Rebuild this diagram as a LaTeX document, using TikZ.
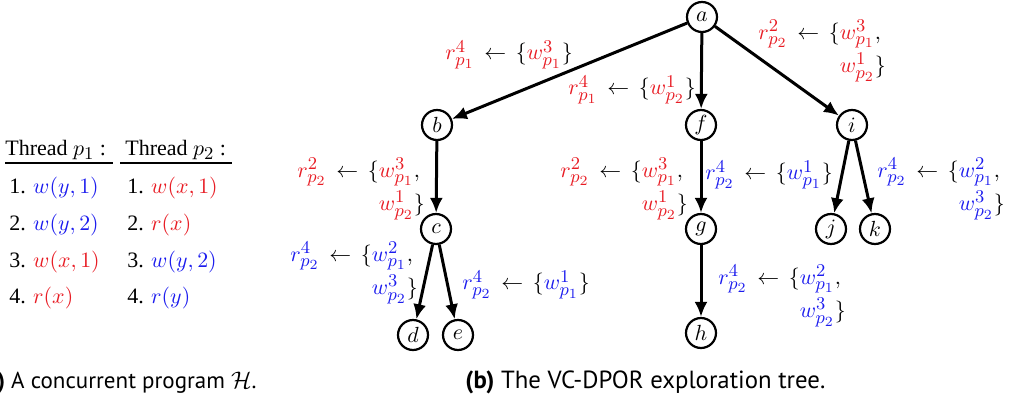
\documentclass[tikz,border=0pt]{standalone}
\usepackage{fontspec}
\setmainfont{Liberation Serif}
\newfontfamily\capfont{PT Sans}
\usetikzlibrary{arrows.meta}
\DeclareMathSizes{11}{11}{9}{7}
\definecolor{myred}{RGB}{232,28,36}
\definecolor{myblue}{RGB}{28,28,238}
\newcommand{\R}[1]{\textcolor{myred}{#1}}
\newcommand{\B}[1]{\textcolor{myblue}{#1}}
\newcommand{\la}{\,\leftarrow\,}
\begin{document}
\begin{tikzpicture}[x=0.5pt,y=-0.5pt,
 font=\fontsize{11}{13.5}\selectfont,
 st/.style={circle,draw,line width=1.1pt,minimum size=15pt,inner sep=0pt},
 edge/.style={line width=1.5pt,-{Latex[length=7.5pt,width=6.5pt]}},
 lbl/.style={inner sep=0pt,anchor=north west},
 txt/.style={inner sep=0pt,anchor=base west},
 rule/.style={line width=0.6pt}]
\useasboundingbox (0,0) rectangle (1012,402);
% tree nodes
\node[st] (a) at (702,17) {$a$};
\node[st] (b) at (437,125) {$b$};
\node[st] (f) at (701,125) {$f$};
\node[st] (i) at (852,125) {$i$};
\node[st] (c) at (436,229) {$c$};
\node[st] (g) at (701,229) {$g$};
\node[st] (j) at (831,229) {$j$};
\node[st] (k) at (875,229) {$k$};
\node[st] (d) at (413,335) {$d$};
\node[st] (e) at (458,335) {$e$};
\node[st] (h) at (701,333) {$h$};
% edges
\draw[edge] (a) -- (b);
\draw[edge] (a) -- (f);
\draw[edge] (a) -- (i);
\draw[edge] (b) -- (c);
\draw[edge] (c) -- (d);
\draw[edge] (c) -- (e);
\draw[edge] (f) -- (g);
\draw[edge] (g) -- (h);
\draw[edge] (i) -- (j);
\draw[edge] (i) -- (k);
% labels
\node[lbl] (l1) at (445,40) {$\R{r^4_{p_1}}\la\{\R{w^3_{p_1}}\}$};
\node[lbl] (l2) at (568,75) {$\R{r^4_{p_1}}\la\{\R{w^1_{p_2}}\}$};
\node[lbl] (l3) at (758,15) {\renewcommand{\arraystretch}{1.25}\begin{tabular}{@{}r@{}l@{}}$\R{r^2_{p_2}}\la\{$&$\R{w^3_{p_1}},$\\&$\R{w^1_{p_2}}\}$\end{tabular}};
\node[lbl] (l4) at (297,153) {\renewcommand{\arraystretch}{1.25}\begin{tabular}{@{}r@{}l@{}}$\R{r^2_{p_2}}\la\{$&$\R{w^3_{p_1}},$\\&$\R{w^1_{p_2}}\}$\end{tabular}};
\node[lbl] (l5) at (290,237) {\renewcommand{\arraystretch}{1.25}\begin{tabular}{@{}r@{}l@{}}$\B{r^4_{p_2}}\la\{$&$\B{w^2_{p_1}},$\\&$\B{w^3_{p_2}}\}$\end{tabular}};
\node[lbl] (l6) at (462,270) {$\B{r^4_{p_2}}\la\{\B{w^1_{p_1}}\}$};
\node[lbl] (l7) at (560,153) {\renewcommand{\arraystretch}{1.25}\begin{tabular}{@{}r@{}l@{}}$\R{r^2_{p_2}}\la\{$&$\R{w^3_{p_1}},$\\&$\R{w^1_{p_2}}\}$\end{tabular}};
\node[lbl] (l8) at (705,160) {$\B{r^4_{p_2}}\la\{\B{w^1_{p_1}}\}$};
\node[lbl] (l9) at (877,153) {\renewcommand{\arraystretch}{1.25}\begin{tabular}{@{}r@{}l@{}}$\B{r^4_{p_2}}\la\{$&$\B{w^2_{p_1}},$\\&$\B{w^3_{p_2}}\}$\end{tabular}};
\node[lbl] (l10) at (718,260) {\renewcommand{\arraystretch}{1.25}\begin{tabular}{@{}r@{}l@{}}$\B{r^4_{p_2}}\la\{$&$\B{w^2_{p_1}},$\\&$\B{w^3_{p_2}}\}$\end{tabular}};
% program table
\node[txt] (h1) at (5,155) {Thread $p_1$ :};
\node[txt] (h2) at (125,155) {Thread $p_2$ :};
\coordinate (u1) at (5,163); \coordinate (u2) at (113,163);
\coordinate (u3) at (120,163); \coordinate (u4) at (232,163);
\draw[rule] (u1) -- (u2);
\draw[rule] (u3) -- (u4);
\node[txt] (p11) at (9,193) {1. $\B{w(y,1)}$};
\node[txt] (p12) at (9,230) {2. $\B{w(y,2)}$};
\node[txt] (p13) at (9,267) {3. $\R{w(x,1)}$};
\node[txt] (p14) at (9,303) {4. $\R{r(x)}$};
\node[txt] (p21) at (127,193) {1. $\R{w(x,1)}$};
\node[txt] (p22) at (127,230) {2. $\R{r(x)}$};
\node[txt] (p23) at (127,267) {3. $\B{w(y,2)}$};
\node[txt] (p24) at (127,303) {4. $\B{r(y)}$};
% captions
\node[inner sep=0pt,anchor=base east,font=\fontsize{11.5}{14}\selectfont] (capa) at (257,388) {\capfont\textbf{(a)} A concurrent program $\mathcal{H}$.};
\node[txt,font=\fontsize{12.4}{14}\selectfont] (capb) at (465,388) {\capfont\textbf{(b)} The VC-DPOR exploration tree.};
\end{tikzpicture}
\end{document}
